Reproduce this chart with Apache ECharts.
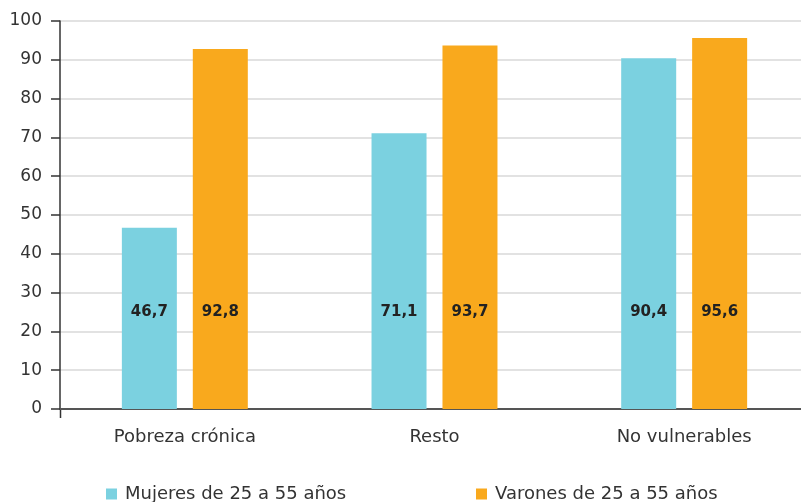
<!DOCTYPE html>
<html>
<head>
<meta charset="utf-8">
<script src="https://cdn.jsdelivr.net/npm/echarts@6/dist/echarts.min.js"></script>
<style>
  html, body { margin: 0; padding: 0; background: #fff; }
  #main { width: 801px; height: 502px; }
</style>
</head>
<body>
<div id="main"></div>
<script>
var categories = ['Pobreza crónica', 'Resto', 'No vulnerables'];
var mujeres = [46.7, 71.1, 90.4];
var varones = [92.8, 93.7, 95.6];
var seriesNames = ['Mujeres de 25 a 55 años', 'Varones de 25 a 55 años'];

var FONT = 'DejaVu Sans';
var myChart = echarts.init(document.getElementById('main'));

// etiqueta a altura fija (cerca de 25 en el eje)
var barLabel = {
    show: true,
    position: 'insideBottom',
    distance: 89,
    fontFamily: FONT,
    fontWeight: 'bold',
    fontSize: 15,
    color: '#222',
    formatter: function (p) {
        return p.value.toFixed(1).replace('.', ',');
    }
};

var legendText = { fontFamily: FONT, fontSize: 18, color: '#333', padding: [0, 0, 0, 3] };

var option = {
    backgroundColor: '#fff',
    animation: false,
    grid: { left: 60, width: 749, top: 21, height: 388, outerBoundsMode: 'none', containLabel: false },
    legend: [{
        data: [seriesNames[0]],
        left: 106, top: 485, padding: 0,
        itemWidth: 11, itemHeight: 11,
        icon: 'rect',
        textStyle: legendText
    }, {
        data: [seriesNames[1]],
        left: 476, top: 485, padding: 0,
        itemWidth: 11, itemHeight: 11,
        icon: 'rect',
        textStyle: legendText
    }],
    xAxis: {
        type: 'category',
        data: categories,
        axisLine: { lineStyle: { color: '#555', width: 2 } },
        axisTick: { alignWithLabel: true, length: 8, lineStyle: { color: '#333', width: 1.5 } },
        axisLabel: { fontFamily: FONT, fontSize: 18, color: '#333', margin: 19 }
    },
    yAxis: {
        type: 'value',
        min: 0, max: 100, interval: 10,
        axisLine: { show: true, lineStyle: { color: '#333', width: 1.5 } },
        axisTick: { show: true, length: 9, lineStyle: { color: '#333', width: 1.5 } },
        axisLabel: { fontFamily: FONT, fontSize: 17, color: '#333', margin: 18 },
        splitLine: { lineStyle: { color: '#d9d9d9', width: 1.5 } }
    },
    series: [{
        name: seriesNames[0],
        type: 'bar',
        data: mujeres,
        barWidth: 55,
        barGap: '29%',
        itemStyle: { color: '#7bd1e0' },
        label: barLabel
    }, {
        name: seriesNames[1],
        type: 'bar',
        data: varones,
        barWidth: 55,
        barGap: '29%',
        itemStyle: { color: '#f9a91d' },
        label: barLabel
    }]
};

myChart.setOption(option);

// pequeña marca bajo el origen, como en el original
var origin = myChart.convertToPixel({ gridIndex: 0 }, [0, 0]);
var x0 = Math.round(60) + 0.5;
myChart.setOption({
    graphic: [{
        type: 'line',
        shape: { x1: x0, y1: origin[1], x2: x0, y2: origin[1] + 9 },
        style: { stroke: '#333', lineWidth: 1.5 }
    }]
});
</script>
</body>
</html>
